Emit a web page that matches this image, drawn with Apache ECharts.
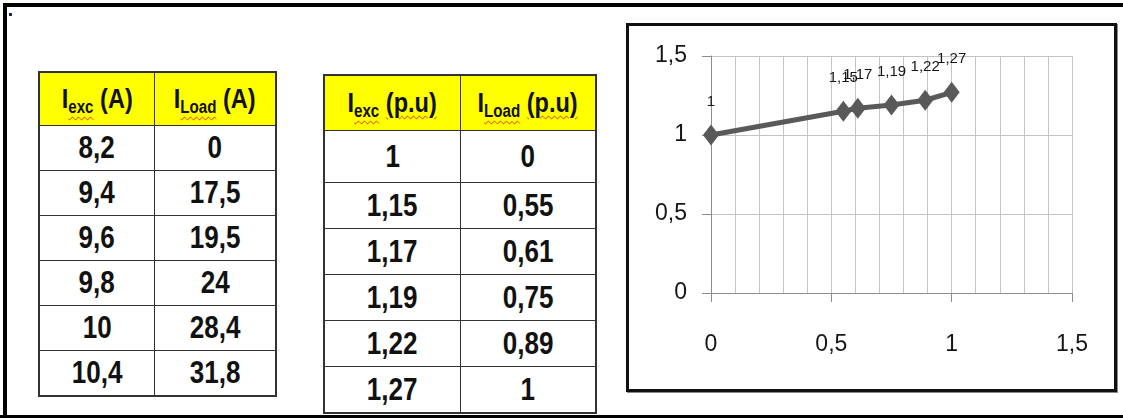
<!DOCTYPE html>
<html>
<head>
<meta charset="utf-8">
<title>Iexc / ILoad</title>
<script src="https://cdn.jsdelivr.net/npm/echarts@6/dist/echarts.min.js"></script>
<style>
  html, body { margin: 0; padding: 0; background: #fff; }
  body { position: relative; width: 1123px; height: 418px; overflow: hidden; }
  .frame { position: absolute; left: 3px; top: 3px; width: 1300px; height: 600px;
           border-left: 4px solid #000; border-top: 4px solid #000; }
  .baseline { position: absolute; left: 0; top: 415px; width: 1123px; height: 3px; background: #000; }
  .dot { position: absolute; left: 9px; top: 13px; width: 3px; height: 3px; background: #1d2b4a; }
  table { position: absolute; border-collapse: collapse; border: 2px solid #333; table-layout: fixed;
          font-family: "Liberation Sans", Arial, sans-serif;
          font-weight: bold; color: #111; }
  td, th { border: 1px solid #333; text-align: center; vertical-align: middle; padding: 0; }
  /* condensed look for the cell text */
  .cx { display: inline-block; transform: scaleX(0.84); transform-origin: 50% 50%; white-space: nowrap; }
  th { background: #ffff00; font-size: 28px; font-weight: bold; white-space: nowrap; }
  td { font-size: 31px; }
  th sub { font-size: 18px; vertical-align: -5px; line-height: 0; }
  .sp { text-decoration: underline wavy #e02020; text-decoration-thickness: 1px; text-underline-offset: 3px; }
  #t1 { left: 38px; top: 71px; width: 237px; }
  #t1 col.a { width: 115px; } #t1 col.b { width: 122px; }
  #t1 th { height: 52px; } #t1 td { height: 44px; }
  #t2 { left: 323px; top: 74px; width: 272px; }
  #t2 col.a { width: 136px; } #t2 col.b { width: 136px; }
  #t2 th { height: 54px; } #t2 td { height: 45px; }
  #t2 tr.first td { height: 51px; }
  #chart { position: absolute; left: 626px; top: 23px; width: 491px; height: 369px;
           box-sizing: border-box; border: 3px solid #111; box-shadow: 1px 1px 0 #888; background: #fff; }
</style>
</head>
<body>
<div class="frame"></div>
<div class="baseline"></div>
<div class="dot"></div>

<table id="t1"><colgroup><col class="a"><col class="b"></colgroup>
  <thead><tr>
    <th><span class="cx">I<sub class="sp">exc</sub> (A)</span></th>
    <th><span class="cx">I<sub class="sp">Load</sub> (A)</span></th>
  </tr></thead>
  <tbody></tbody>
</table>

<table id="t2"><colgroup><col class="a"><col class="b"></colgroup>
  <thead><tr>
    <th><span class="cx">I<sub class="sp">exc</sub> <span class="sp">(p.u)</span></span></th>
    <th><span class="cx">I<sub class="sp">Load</sub> <span class="sp">(p.u)</span></span></th>
  </tr></thead>
  <tbody></tbody>
</table>

<div id="chart"></div>

<script>
// Measured excitation and load currents, in amperes
const iexcAmp  = [8.2, 9.4, 9.6, 9.8, 10, 10.4];
const iloadAmp = [0, 17.5, 19.5, 24, 28.4, 31.8];

// Same measurements in per-unit
const iexcPu  = [1, 1.15, 1.17, 1.19, 1.22, 1.27];
const iloadPu = [0, 0.55, 0.61, 0.75, 0.89, 1];

// Decimal comma formatting
const fmt = v => String(v).replace('.', ',');

function cell(v) {
  const td = document.createElement('td');
  const s = document.createElement('span');
  s.className = 'cx';
  s.textContent = fmt(v);
  td.appendChild(s);
  return td;
}

function fillTable(id, colA, colB) {
  const body = document.querySelector('#' + id + ' tbody');
  colA.forEach((a, i) => {
    const tr = document.createElement('tr');
    if (i === 0) tr.className = 'first';
    tr.appendChild(cell(a));
    tr.appendChild(cell(colB[i]));
    body.appendChild(tr);
  });
}
fillTable('t1', iexcAmp, iloadAmp);
fillTable('t2', iexcPu, iloadPu);

// Iexc (p.u) against ILoad (p.u)
const chart = echarts.init(document.getElementById('chart'), null, { renderer: 'canvas' });
const axisGray = '#8c8c8c';
const gridGray = '#c3c3c3';
const labelFont = { fontFamily: 'Liberation Sans', fontSize: 23, color: '#151515' };

chart.setOption({
  animation: false,
  backgroundColor: '#fff',
  grid: { left: 82, top: 30, right: 42, bottom: 96, containLabel: false },
  xAxis: {
    type: 'value', min: 0, max: 1.5, interval: 0.5,
    axisLine: { show: true, onZero: false, lineStyle: { color: axisGray, width: 1 } },
    axisTick: { show: true, length: 9, lineStyle: { color: axisGray } },
    axisLabel: Object.assign({ margin: 40, formatter: fmt }, labelFont),
    splitLine: { show: true, lineStyle: { color: gridGray, width: 1 } },
    minorTick: { show: false, splitNumber: 5 },
    minorSplitLine: { show: true, lineStyle: { color: gridGray, width: 1 } }
  },
  yAxis: {
    type: 'value', min: 0, max: 1.5, interval: 0.5,
    axisLine: { show: true, onZero: false, lineStyle: { color: axisGray, width: 1 } },
    axisTick: { show: true, length: 9, lineStyle: { color: axisGray } },
    axisLabel: Object.assign({ margin: 24, formatter: fmt }, labelFont),
    splitLine: { show: true, lineStyle: { color: gridGray, width: 1 } }
  },
  series: [{
    type: 'line',
    data: iloadPu.map((x, i) => [x, iexcPu[i]]),
    symbol: 'diamond',
    symbolSize: [16, 21],
    lineStyle: { color: '#595959', width: 5 },
    itemStyle: { color: '#595959' },
    label: {
      show: true, position: 'top', distance: 15,
      fontFamily: 'Liberation Sans', fontSize: 15, color: '#151515',
      formatter: p => fmt(p.value[1])
    }
  }]
});
</script>
</body>
</html>
